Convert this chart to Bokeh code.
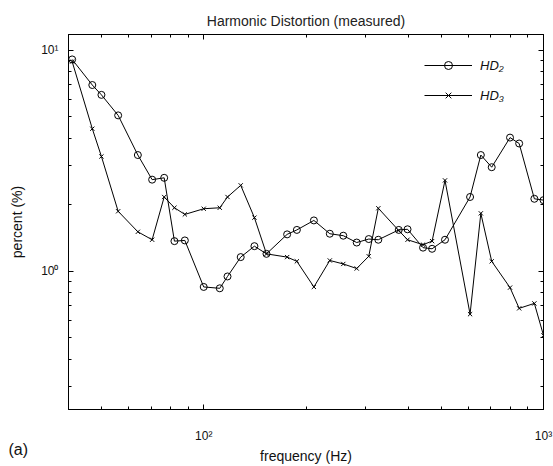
from bokeh.plotting import figure
from bokeh.models import Range1d, LogAxis, FixedTicker, CustomJSTickFormatter, Legend, LegendItem, Title
from bokeh.embed import file_html
from bokeh.resources import INLINE

# ---- data ----
freq = [41, 47, 50, 56, 64, 70.5, 76.5, 82, 88, 100, 111.5, 117.5, 128.5, 141, 153,
        176, 188, 211, 235, 257.5, 282, 306, 326.5, 375, 398, 442, 470, 513, 608,
        654, 704, 797, 848, 940, 1000]
hd2 = [9.1, 6.97, 6.29, 5.08, 3.36, 2.60, 2.65, 1.37, 1.38, 0.85, 0.838, 0.948, 1.16,
       1.30, 1.20, 1.47, 1.54, 1.70, 1.48, 1.45, 1.35, 1.40, 1.39, 1.54, 1.55, 1.28,
       1.265, 1.39, 2.17, 3.36, 2.96, 4.03, 3.79, 2.13, 2.10]
hd3 = [8.9, 4.42, 3.31, 1.87, 1.51, 1.39, 2.17, 1.94, 1.81, 1.92, 1.94, 2.17, 2.45,
       1.75, 1.20, 1.16, 1.11, 0.85, 1.12, 1.08, 1.03, 1.17, 1.93, 1.53, 1.39, 1.32,
       1.37, 2.58, 0.64, 1.83, 1.11, 0.844, 0.68, 0.716, 0.513]

series_labels = ["HD\u2082", "HD\u2083"]
title_text = "Harmonic Distortion (measured)"
x_label = "frequency (Hz)"
y_label = "percent (%)"
panel_tag = "(a)"

x_major = [100, 1000]
x_minor = [40, 50, 60, 70, 80, 90, 200, 300, 400, 500, 600, 700, 800, 900]
y_major = [1, 10]
y_minor = [0.3, 0.4, 0.5, 0.6, 0.7, 0.8, 0.9, 2, 3, 4, 5, 6, 7, 8, 9]

FONT = "Liberation Sans"

fmt_code = """
const e = Math.round(Math.log10(tick));
const sup = {"-1": "\u207b\u00b9", "0": "\u2070", "1": "\u00b9", "2": "\u00b2", "3": "\u00b3"};
return "10" + sup[String(e)];
"""

p = figure(width=553, height=466, x_axis_type="log", y_axis_type="log",
           x_range=Range1d(40, 1000), y_range=Range1d(0.237, 11.8),
           output_backend="svg", toolbar_location=None,
           min_border_left=68, min_border_right=10, min_border_top=34, min_border_bottom=53)

p.background_fill_color = "white"
p.border_fill_color = "white"
p.outline_line_color = "black"
p.xgrid.visible = False
p.ygrid.visible = False

p.title.text = title_text
p.title.align = "center"
p.title.standoff = 11
p.title.text_font = FONT
p.title.text_font_style = "normal"
p.title.text_font_size = "14px"
p.title.text_color = "#222222"


def style_axis(ax, labels=True):
    ax.axis_line_color = "black"
    ax.major_tick_in = 5
    ax.major_tick_out = 0
    ax.minor_tick_in = 3
    ax.minor_tick_out = 0
    ax.major_tick_line_color = "black"
    ax.minor_tick_line_color = "black"
    if labels:
        ax.major_label_text_font = FONT
        ax.major_label_text_font_size = "12px"
        ax.major_label_text_color = "#111111"
        ax.axis_label_text_font = FONT
        ax.axis_label_text_font_size = "14px"
        ax.axis_label_text_font_style = "normal"
        ax.axis_label_text_color = "#111111"
    else:
        ax.major_label_text_font_size = "0px"
        ax.major_label_text_color = None
        ax.major_label_standoff = 0


xa = p.xaxis[0]
xa.ticker = FixedTicker(ticks=x_major, minor_ticks=x_minor)
xa.formatter = CustomJSTickFormatter(code=fmt_code)
xa.axis_label = x_label
style_axis(xa)
xa.major_label_standoff = 19
xa.axis_label_standoff = 2

ya = p.yaxis[0]
ya.ticker = FixedTicker(ticks=y_major, minor_ticks=y_minor)
ya.formatter = CustomJSTickFormatter(code=fmt_code)
ya.axis_label = y_label
style_axis(ya)
ya.major_label_standoff = 10
ya.axis_label_standoff = 13

xa2 = LogAxis(ticker=FixedTicker(ticks=x_major, minor_ticks=x_minor),
              formatter=CustomJSTickFormatter(code=fmt_code))
style_axis(xa2, labels=False)
p.add_layout(xa2, "above")
ya2 = LogAxis(ticker=FixedTicker(ticks=y_major, minor_ticks=y_minor),
              formatter=CustomJSTickFormatter(code=fmt_code))
style_axis(ya2, labels=False)
p.add_layout(ya2, "right")

l2 = p.line(freq, hd2, line_color="black", line_width=1)
m2 = p.scatter(freq, hd2, marker="circle", size=7, line_color="black",
               fill_color=None, line_width=1)
l3 = p.line(freq, hd3, line_color="black", line_width=1)
m3 = p.scatter(freq, hd3, marker="x", size=6, line_color="black", line_width=1)

legend = Legend(items=[LegendItem(label=series_labels[0], renderers=[l2, m2]),
                       LegendItem(label=series_labels[1], renderers=[l3, m3])],
                location=(356, 304), orientation="vertical",
                border_line_color=None, background_fill_alpha=0,
                padding=0, margin=0, spacing=10,
                glyph_width=48, glyph_height=20, label_height=20, label_standoff=8,
                label_text_font=FONT, label_text_font_style="italic",
                label_text_font_size="13px", label_text_color="#111111")
p.add_layout(legend, "center")

# panel tag in the lower-left margin, drawn as a side-panel title (not clipped)
tag = Title(text=panel_tag, align="left", offset=-60, vertical_align="top",
            standoff=-52, text_font=FONT, text_font_size="16px",
            text_font_style="normal", text_color="#111111")
p.add_layout(tag, "below")

open("out.html", "w").write(file_html(p, INLINE))
